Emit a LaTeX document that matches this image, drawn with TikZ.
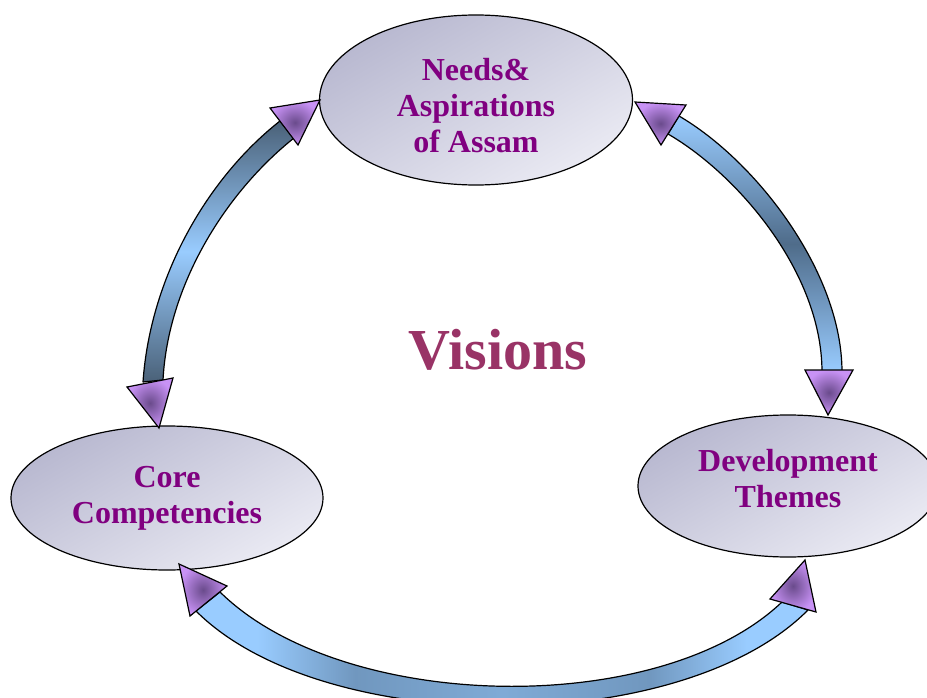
\documentclass[tikz,border=0pt]{standalone}
\usepackage{fontspec}
\setmainfont{Liberation Serif}
\usetikzlibrary{shapes.geometric}
\definecolor{txtpurple}{HTML}{800080}
\definecolor{viscol}{HTML}{993366}
\definecolor{bandlight}{HTML}{99CCFF}
\definecolor{banddark}{HTML}{4F6C8A}
\definecolor{leftdark}{HTML}{4A6178}
\definecolor{headlight}{HTML}{C892F5}
\definecolor{headdark}{HTML}{6A4B8C}
\definecolor{elldark}{HTML}{B8B8D0}
\definecolor{elllight}{HTML}{EAEAF3}
\colorlet{bandmid}{banddark!55!bandlight}
\colorlet{bandmidB}{banddark!35!bandlight}
\pgfdeclarehorizontalshading{bottomband}{100bp}{color(0bp)=(bandlight); color(30bp)=(bandlight); color(38bp)=(bandmid); color(50bp)=(bandmidB); color(62bp)=(bandmid); color(70bp)=(bandlight); color(100bp)=(bandlight)}
\tikzset{
  ell/.style={ellipse, draw=black, line width=1.2pt, inner sep=0pt,
    top color=elldark, bottom color=elllight, shading angle=30,
    text=txtpurple, align=center, font=\bfseries\fontsize{32}{36}\selectfont},
  band/.style={draw=black, line width=1.2pt, line join=round},
  head/.style={draw=black, line width=1.2pt, line join=miter,
    inner color=headdark, outer color=headlight}
}
\begin{document}
\begin{tikzpicture}[x=1pt,y=-1pt]
\useasboundingbox (0,0) rectangle (927,698);
\clip (0,0) rectangle (927,698);
% ellipses
\node[ell, minimum width=313pt, minimum height=170pt] (needs) at (476,100) {\rule{0pt}{33pt}Needs\&\\Aspirations\\of Assam};
\node[ell, minimum width=312pt, minimum height=144pt] (core) at (167,498) {Core\\Competencies};
\node[ell, minimum width=300pt, minimum height=142pt] (dev) at (788,486) {Development\\Themes\rule[-16pt]{0pt}{0pt}};
% centre text
\node[text=viscol, font=\bfseries\fontsize{58}{62}\selectfont] (vis) at (498,350) {Visions};
% bands
\path[band, top color=leftdark, bottom color=leftdark, middle color=bandlight]
  (280,121) .. controls (205,180) and (150,280) .. (143,382) -- (163,380)
  .. controls (168,285) and (225,193) .. (294,138) -- cycle;
\path[band, top color=bandlight, bottom color=bandlight, middle color=banddark]
  (679,116) .. controls (756,161) and (842,272) .. (842,372) -- (822,372)
  .. controls (822,272) and (737,174) .. (668,134) -- cycle;
\path[band, shading=bottomband]
  (196,611) .. controls (323,738) and (681,738) .. (808,610) -- (782,602)
  .. controls (659,719) and (343,713) .. (220,592) -- cycle;
% arrow heads
\path[head] (270,108) -- (320,100) -- (298,145) -- cycle;
\path[head] (127,387) -- (173,378) -- (159,428) -- cycle;
\path[head] (635,102) -- (686,105) -- (661,145) -- cycle;
\path[head] (805,370) -- (853,370) -- (828,415) -- cycle;
\path[head] (179,564) -- (227,586) -- (190,616) -- cycle;
\path[head] (805,560) -- (770,599) -- (816,612) -- cycle;
\end{tikzpicture}
\end{document}
